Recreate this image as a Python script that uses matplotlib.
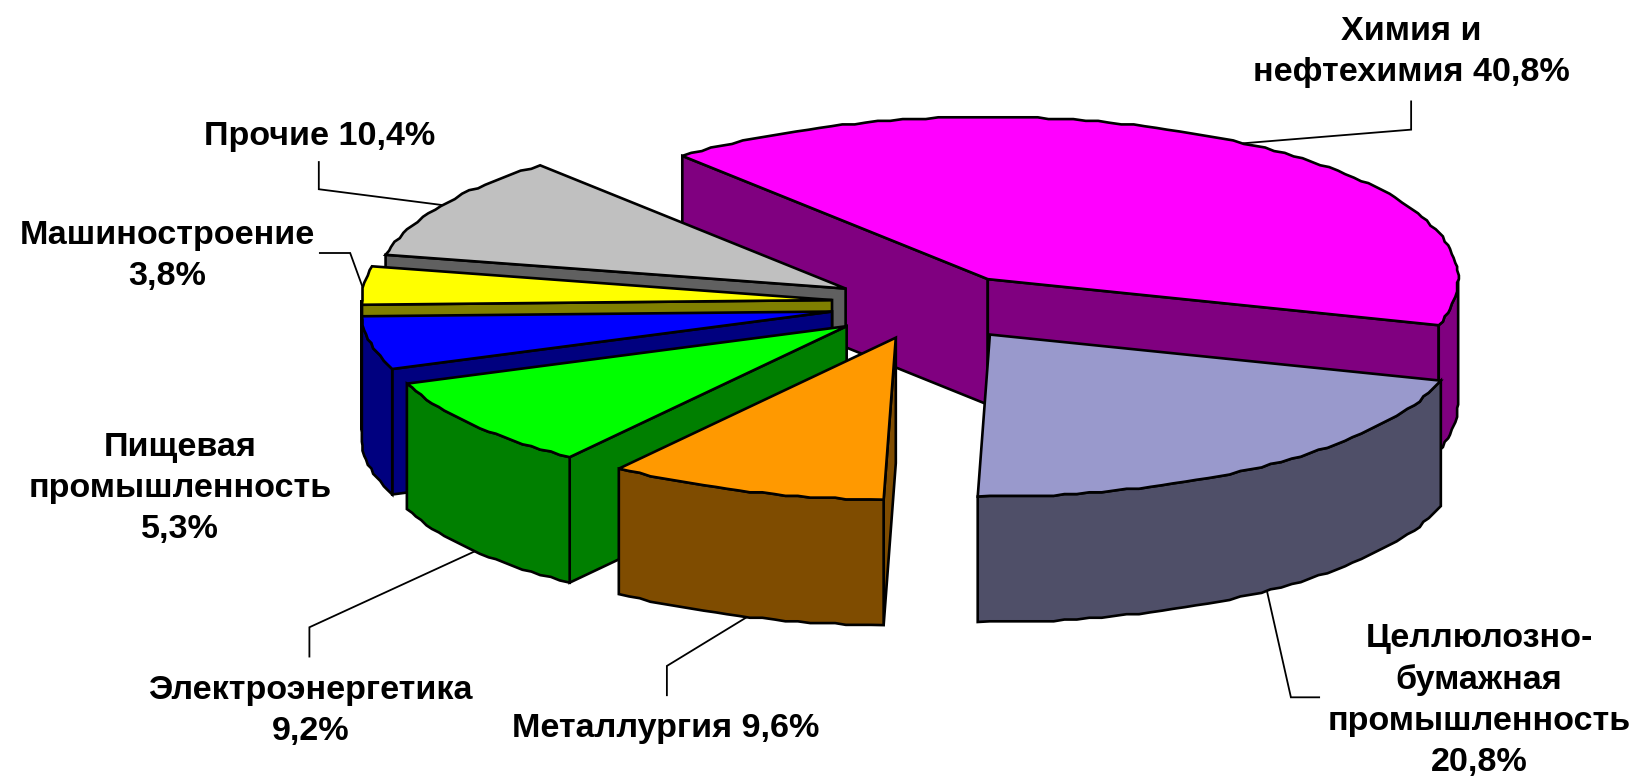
import numpy as np
import matplotlib
matplotlib.use("Agg")
import matplotlib.pyplot as plt
from matplotlib.patches import Polygon

# Data (order: clockwise from the start angle)
categories = ["Химия и нефтехимия", "Целлюлозно-бумажная промышленность", "Металлургия",
              "Электроэнергетика", "Пищевая промышленность", "Машиностроение", "Прочие"]
values = [40.8, 20.8, 9.6, 9.2, 5.3, 3.8, 10.4]
labels = ["Химия и\nнефтехимия 40,8%", "Целлюлозно-\nбумажная\nпромышленность\n20,8%", "Металлургия 9,6%",
          "Электроэнергетика\n9,2%", "Пищевая\nпромышленность\n5,3%", "Машиностроение\n3,8%", "Прочие 10,4%"]

# Styling / layout
top_colors = ["#FF00FF", "#9999CC", "#FF9900", "#00FF00", "#0000FF", "#FFFF00", "#C0C0C0"]
side_colors = ["#800080", "#4F4F68", "#7F4C00", "#007F00", "#00007F", "#7F7F00", "#606060"]
apexes = [(945, 267), (947, 320), (857, 323), (810, 312), (796, 298), (796, 287), (809, 276)]
label_centers = [(1350, 50), (1415, 670), (637, 697), (297, 680), (172, 467), (160, 245), (306, 131)]
leaders = [
    [(1350, 97), (1350, 124), (1190, 137)],
    [(1212, 565), (1235, 667), (1262, 667)],
    [(715, 590), (638, 637), (638, 665)],
    [(455, 527), (296, 600), (296, 628)],
    [(305, 155), (305, 181), (422, 196)],
    [(306, 242), (335, 242), (347, 275)],
]
draw_order = [0, 6, 5, 4, 3, 2, 1]
A, B, DEPTH = 450.0, 155.0, 120.0
START = 130.5
GRID = 1.7
LW = 1.9

plt.rcParams["font.family"] = ["Liberation Sans", "DejaVu Sans"]
fig = plt.figure(figsize=(16.39, 7.82), dpi=100, facecolor="white")
ax = fig.add_axes([0, 0, 1, 1])
ax.set_xlim(0, 1568)
ax.set_ylim(748, 0)
ax.axis("off")

def arc(apex, t1, t2):
    n = max(2, int(abs(t1 - t2) / 1.5) + 1)
    t = np.radians(np.linspace(t1, t2, n))
    x = apex[0] + A * np.cos(t)
    y = apex[1] - B * np.sin(t)
    # coarse device rounding gives the stepped outline of the original
    x[1:-1] = np.round(x[1:-1] / GRID) * GRID
    y[1:-1] = np.round(y[1:-1] / GRID) * GRID
    return np.column_stack([x, y])

def add(pts, color, z):
    ax.add_patch(Polygon(pts, closed=True, facecolor=color, edgecolor="black",
                         linewidth=LW, joinstyle="miter", zorder=z))

for pts in leaders:
    xs, ys = zip(*pts)
    ax.plot(xs, ys, color="black", lw=1.3, zorder=1, solid_joinstyle="miter")

sweeps = np.array(values) / sum(values) * 360
ends = START - np.cumsum(sweeps)
starts = ends + sweeps
down = np.array([0, DEPTH])
z = 2
for i in draw_order:
    t1, t2 = starts[i], ends[i]
    apex = np.array(apexes[i], float)
    p1 = arc(apex, t1, t1)[0]
    p2 = arc(apex, t2, t2)[0]
    # cut faces that look towards the viewer
    if np.cos(np.radians(t1)) < 0:
        add([apex, p1, p1 + down, apex + down], side_colors[i], z); z += 1
    if np.cos(np.radians(t2)) > 0:
        add([apex, p2, p2 + down, apex + down], side_colors[i], z); z += 1
    # visible part of the rim: lower half of the ellipse
    for lo, hi in [(-180, 0), (-540, -360), (180, 360)]:
        a, b = min(t1, hi), max(t2, lo)
        if a > b:
            rim = arc(apex, a, b)
            add(np.vstack([rim, rim[::-1] + down]), side_colors[i], z); z += 1
    add(np.vstack([[apex], arc(apex, t1, t2)]), top_colors[i], z); z += 1

for text, (cx, cy) in zip(labels, label_centers):
    ax.text(cx, cy, text, ha="center", va="center", fontsize=24.6, fontweight="bold",
            color="black", linespacing=1.42, zorder=z)

fig.savefig("out.png", dpi=100, facecolor="white")
